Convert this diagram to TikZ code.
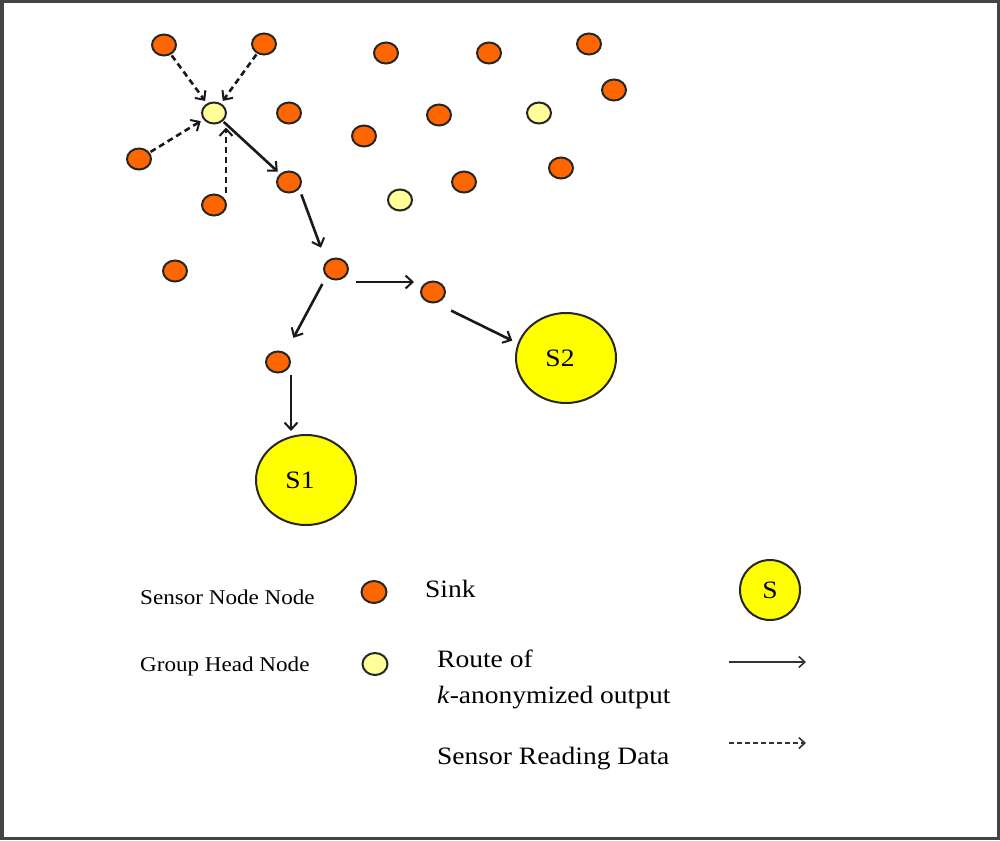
\documentclass[tikz,border=0pt]{standalone}
\usepackage{fontspec}
\setmainfont{Liberation Serif}[FakeStretch=1.1]
\usetikzlibrary{shapes.geometric,arrows.meta}
\definecolor{sensorfill}{HTML}{FF6600}
\definecolor{headfill}{HTML}{FFFF99}
\definecolor{sinkfill}{HTML}{FFFF00}
\definecolor{outline}{HTML}{262626}
\definecolor{framecol}{HTML}{444444}
\tikzset{
  sensor/.style={ellipse,draw=outline,line width=2pt,fill=sensorfill,minimum width=24,minimum height=21,inner sep=0pt},
  head/.style={ellipse,draw=outline,line width=2pt,fill=headfill,minimum width=24,minimum height=21,inner sep=0pt},
  sinknode/.style={ellipse,draw=outline,line width=2pt,fill=sinkfill,minimum width=100,minimum height=90,inner sep=0pt,font=\fontsize{25}{30}\selectfont},
  tip/.style={-{Straight Barb[length=7pt,width=13pt,line width=2pt]}},
  route/.style={tip,line width=2.6pt,draw=black!90,shorten <=1pt,shorten >=3pt},
  reading/.style={tip,line width=2.6pt,draw=black!90,dash pattern=on 6pt off 4pt,shorten <=1pt,shorten >=3pt},
  bigtext/.style={font=\fontsize{25}{36}\selectfont,inner sep=0pt},
  smalltext/.style={font=\fontsize{21}{25}\selectfont,inner sep=0pt},
}
\begin{document}
\begin{tikzpicture}[x=1pt,y=-1pt]
\useasboundingbox (0,0) rectangle (1000,840);
\draw[framecol,line width=3.5pt] (1.75,1.75) rectangle (998.25,838.25);
% sensor nodes
\node[sensor] (s1) at (164,45) {};
\node[sensor] (s2) at (264,44) {};
\node[sensor] (s3) at (386,53) {};
\node[sensor] (s4) at (489,53) {};
\node[sensor] (s5) at (589,44) {};
\node[sensor] (s6) at (614,90) {};
\node[sensor] (s7) at (289,113) {};
\node[sensor] (s8) at (439,115) {};
\node[sensor] (s9) at (364,136) {};
\node[sensor] (s10) at (139,159) {};
\node[sensor] (s11) at (561,168) {};
\node[sensor] (s12) at (464,182) {};
\node[sensor] (s13) at (289,182) {};
\node[sensor] (s14) at (214,205) {};
\node[sensor] (s15) at (175,271) {};
\node[sensor] (s16) at (336,269) {};
\node[sensor] (s17) at (433,292) {};
\node[sensor] (s18) at (278,362) {};
% group heads
\node[head] (g1) at (214,113) {};
\node[head] (g2) at (539,113) {};
\node[head] (g3) at (400,200) {};
% sinks
\node[sinknode] (sk1) at (306,480) {\hspace*{-12pt}S1};
\node[sinknode] (sk2) at (566,358) {\hspace*{-12pt}S2};
% sensor reading data
\draw[reading] (s1) -- (g1);
\draw[reading] (s2) -- (g1);
\draw[reading] (s10) -- (g1);
\draw[reading] ([xshift=12]s14.north) -- ([xshift=12]s14.north |- g1.south);
% route
\draw[route] (g1) -- (s13);
\draw[route] ([xshift=12]s13.south) -- ([shift={(-14,-7)}]s16.north);
\draw[route] ([shift={(6,13)}]s16.east) -- ([shift={(-3,-10)}]s17.west);
\draw[route] ([shift={(-4,6)}]s16.south west) -- ([shift={(14,-10)}]s18.north);
\draw[route] ([shift={(8,10)}]s17.south east) -- ([yshift=16]sk2.west);
\draw[route] ([xshift=13]s18.south) -- ([xshift=13]s18.south |- sk1.north);
% legend
\node[smalltext,anchor=base west] (l1) at (140,604) {Sensor Node Node};
\node[sensor,minimum width=25,minimum height=22] (ls) at (374,592) {};
\node[bigtext,anchor=base west] (l2) at (425,597) {Sink};
\node[sinknode,minimum width=60,minimum height=60] (lsk) at (770,590) {S};
\node[smalltext,anchor=base west] (l3) at (140,671) {Group Head Node};
\node[head,minimum width=25,minimum height=22] (lh) at (375,664) {};
\node[bigtext,anchor=north west,align=left] (l4) at (437,650) {Route of\\\textit{k}-anonymized output};
\node[bigtext,anchor=base west] (l5) at (437,764) {Sensor Reading Data};
\coordinate (a1) at (729,662);
\coordinate (a2) at (806,662);
\coordinate (b1) at (729,743);
\coordinate (b2) at (806,743);
\draw[-{Straight Barb[length=6pt,width=11pt,line width=1.6pt]},line width=2.2pt,draw=black!80] (a1) -- (a2);
\draw[-{Straight Barb[length=6pt,width=11pt,line width=1.6pt]},line width=2pt,draw=black!80,dash pattern=on 5pt off 3pt] (b1) -- (b2);
\end{tikzpicture}
\end{document}
